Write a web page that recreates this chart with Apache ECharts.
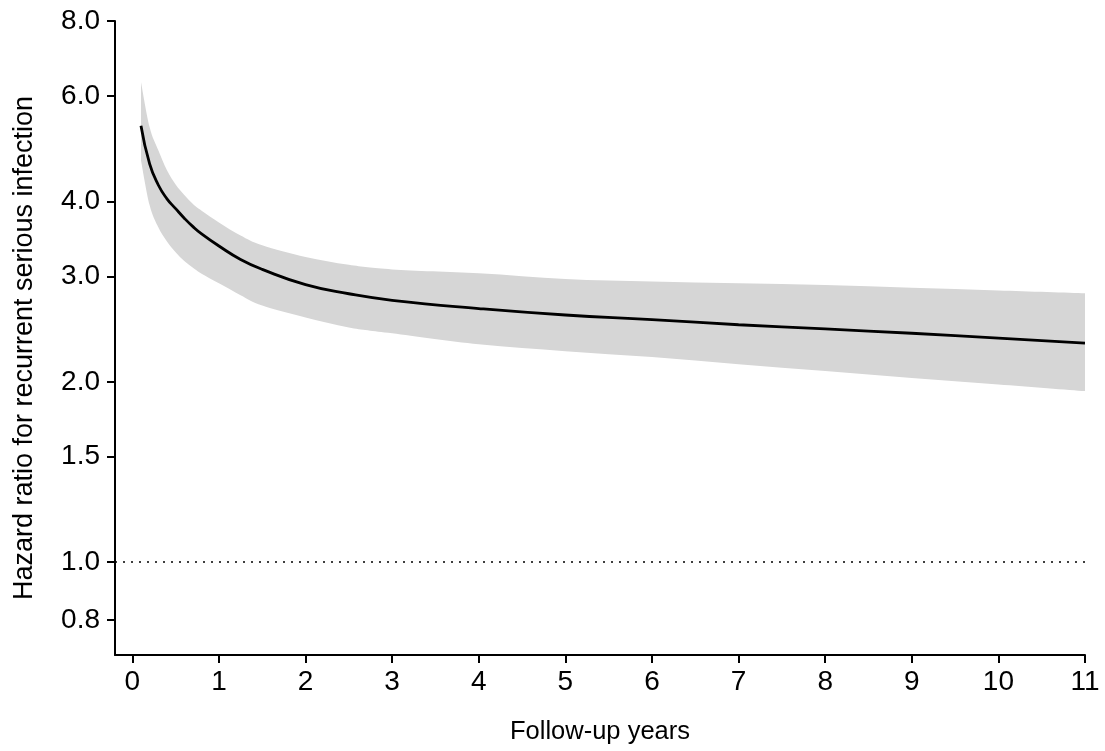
<!DOCTYPE html>
<html>
<head>
<meta charset="utf-8">
<script src="https://cdn.jsdelivr.net/npm/echarts@6/dist/echarts.min.js"></script>
<style>
html,body{margin:0;padding:0;background:#fff;}
#chart{width:1105px;height:751px;}
</style>
</head>
<body>
<div id="chart"></div>
<script>
// Follow-up years
const years = [0.1, 0.2, 0.3, 0.4, 0.5, 0.6, 0.7, 0.8, 1.0, 1.25, 1.5, 2, 2.5, 3, 4, 5, 6, 7, 8, 9, 10, 11];
// Hazard ratio estimate
const hazardRatio = [5.35, 4.62, 4.26, 4.04, 3.89, 3.75, 3.63, 3.53, 3.37, 3.20, 3.08, 2.905, 2.805, 2.735, 2.65, 2.585, 2.54, 2.49, 2.45, 2.41, 2.365, 2.32];
// 95% CI upper / lower
const ciUpper = [6.33, 5.32, 4.87, 4.51, 4.27, 4.10, 3.96, 3.86, 3.69, 3.51, 3.38, 3.23, 3.135, 3.08, 3.035, 2.97, 2.94, 2.92, 2.90, 2.87, 2.84, 2.81];
const ciLower = [4.68, 3.94, 3.62, 3.43, 3.29, 3.18, 3.10, 3.03, 2.92, 2.79, 2.68, 2.56, 2.465, 2.41, 2.31, 2.25, 2.20, 2.14, 2.085, 2.03, 1.98, 1.93];
// axis ticks
const yTicks = [0.8, 1.0, 1.5, 2.0, 3.0, 4.0, 6.0, 8.0];
const xTicks = [0, 1, 2, 3, 4, 5, 6, 7, 8, 9, 10, 11];
const yRange = [0.7, 8.0];
const xRange = [-0.2, 11];
const refLine = 1.0;
const xTitle = 'Follow-up years';
const yTitle = 'Hazard ratio for recurrent serious infection';

const L = Math.log;
const bandData = years.map((t, i) => [t, L(ciLower[i]), L(ciUpper[i])]);
const lineData = years.map((t, i) => [t, L(hazardRatio[i])]);

// smooth path segments (Catmull-Rom, control y clamped so curves stay monotone)
function curveSegs(pts) {
  let s = '';
  const n = pts.length;
  for (let i = 0; i < n - 1; i++) {
    const p0 = pts[Math.max(0, i - 1)], p1 = pts[i], p2 = pts[i + 1], p3 = pts[Math.min(n - 1, i + 2)];
    const lo = Math.min(p1[1], p2[1]), hi = Math.max(p1[1], p2[1]);
    const cl = v => Math.min(hi, Math.max(lo, v));
    const c1x = p1[0] + (p2[0] - p0[0]) / 6, c1y = cl(p1[1] + (p2[1] - p0[1]) / 6);
    const c2x = p2[0] - (p3[0] - p1[0]) / 6, c2y = cl(p2[1] - (p3[1] - p1[1]) / 6);
    s += ' C' + c1x + ' ' + c1y + ' ' + c2x + ' ' + c2y + ' ' + p2[0] + ' ' + p2[1];
  }
  return s;
}

const FONT = 'Liberation Sans, Arial, sans-serif';
const chart = echarts.init(document.getElementById('chart'));
chart.setOption({
  animation: false,
  backgroundColor: '#fff',
  grid: { left: 115, right: 20, top: 21, bottom: 96, containLabel: false },
  xAxis: {
    type: 'value', min: xRange[0], max: xRange[1],
    name: xTitle, nameLocation: 'middle', nameGap: 64,
    nameTextStyle: { fontFamily: FONT, fontSize: 25.5, color: '#000' },
    axisLine: { show: true, onZero: false, lineStyle: { color: '#000', width: 2 } },
    axisTick: { show: true, length: 8, lineStyle: { color: '#000', width: 2 }, customValues: xTicks },
    axisLabel: { color: '#000', fontFamily: FONT, fontSize: 28, margin: 13, customValues: xTicks },
    splitLine: { show: false }
  },
  yAxis: {
    type: 'value', min: L(yRange[0]), max: L(yRange[1]),
    name: yTitle, nameLocation: 'middle', nameGap: 77, nameRotate: 90,
    nameTextStyle: { fontFamily: FONT, fontSize: 27, color: '#000', padding: [0, 20, 0, 0] },
    axisLine: { show: true, onZero: false, lineStyle: { color: '#000', width: 2 } },
    axisTick: { show: true, length: 8, lineStyle: { color: '#000', width: 2 }, customValues: yTicks.map(L) },
    axisLabel: { color: '#000', fontFamily: FONT, fontSize: 28, margin: 15,
      customValues: yTicks.map(L),
      formatter: v => Math.exp(v).toFixed(1) },
    splitLine: { show: false }
  },
  series: [
    { type: 'custom', data: bandData, silent: true, z: 1,
      encode: { x: 0, y: [1, 2] },
      renderItem: function (params, api) {
        if (params.dataIndex !== 0) return null;
        const top = bandData.map(d => api.coord([d[0], d[2]]));
        const bot = bandData.map(d => api.coord([d[0], d[1]])).reverse();
        const d = 'M' + top[0][0] + ' ' + top[0][1] + curveSegs(top) +
          ' L' + bot[0][0] + ' ' + bot[0][1] + curveSegs(bot) + ' Z';
        return { type: 'path', shape: { pathData: d },
          style: { fill: '#d6d6d6', stroke: null } };
      } },
    { type: 'line', data: lineData, smooth: 0.5, symbol: 'none', z: 3,
      lineStyle: { color: '#000', width: 2.8 }, silent: true,
      markLine: { silent: true, symbol: 'none', label: { show: false },
        lineStyle: { color: '#000', type: [2, 6], width: 1.5 },
        data: [{ yAxis: L(refLine) }] } }
  ]
});
</script>
</body>
</html>
